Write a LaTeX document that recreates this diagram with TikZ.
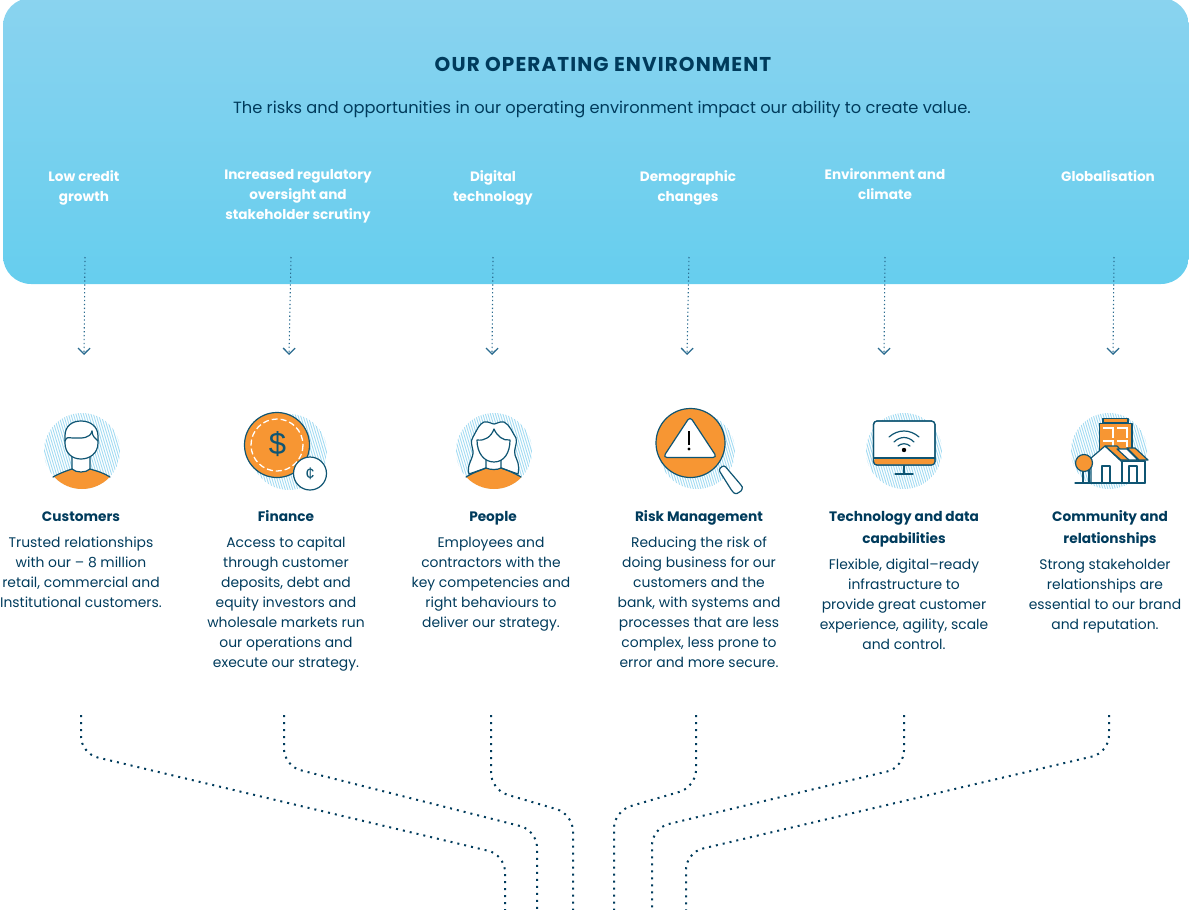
\documentclass[tikz,border=0pt]{standalone}
\usepackage{fontspec}
\setmainfont{Poppins}
\newfontfamily\symfont{Liberation Sans}
\usetikzlibrary{arrows.meta}
\definecolor{navy}{HTML}{003B5C}
\definecolor{stroke}{HTML}{0F5573}
\definecolor{orange}{HTML}{F79633}
\definecolor{hatchc}{HTML}{A6DCF2}
\definecolor{arrowc}{HTML}{2B6C90}
\definecolor{skytop}{HTML}{8AD3EF}
\definecolor{skybot}{HTML}{66CEEE}
\tikzset{
 x=1pt,y=-1pt,
 factor/.style={font=\fontsize{13.6}{20}\selectfont\bfseries,text=white,align=center,inner sep=0pt,anchor=north},
 head/.style={font=\fontsize{13.7}{22}\selectfont\bfseries,text=navy,align=center,inner sep=0pt,anchor=north},
 body/.style={font=\fontsize{13.9}{20}\selectfont,text=navy,align=center,inner sep=0pt,anchor=north},
 downarrow/.style={draw=arrowc,line width=1.1pt,dash pattern=on 1.3pt off 2.6pt,-{Straight Barb[length=6pt,width=12pt,line width=1.3pt]}},
 feeder/.style={draw=navy,line width=2pt,dash pattern=on 2pt off 5pt,rounded corners=17pt},
 ico/.style={draw=stroke,line width=1.2pt,line join=round,line cap=round},
 win/.style={white,line width=1.2pt},
}
\newcommand{\hatchdisc}[3]{%
 \begin{scope}
  \clip (#1,#2) circle (#3);
  \foreach \k in {-60,-57.5,...,60}{\draw[hatchc,line width=.95pt] (#1+\k-12,#2-40) -- (#1+\k+12,#2+40);}
 \end{scope}}
\begin{document}
\begin{tikzpicture}
\useasboundingbox (0,0) rectangle (1189,910);
\begin{scope}
 \clip (0,0) rectangle (1189,910);
 \path[top color=skytop,bottom color=skybot,rounded corners=28pt] (3,-2) rectangle (1189,284);

 \node[font=\fontsize{20}{22}\selectfont\bfseries\addfontfeatures{LetterSpace=5.5},text=navy,inner sep=0pt] (title) at (603,64) {OUR OPERATING ENVIRONMENT};
 \node[font=\fontsize{16.25}{20}\selectfont,text=navy,inner sep=0pt] (sub) at (602,110) {The risks and opportunities in our operating environment impact our ability to create value.};

 \node[factor] (f1) at (84,167) {\strut Low credit\\growth};
 \node[factor] (f2) at (298,165) {\strut Increased regulatory\\oversight and\\stakeholder scrutiny};
 \node[factor] (f3) at (493,167) {\strut Digital\\technology};
 \node[factor] (f4) at (688,167) {\strut Demographic\\changes};
 \node[factor] (f5) at (885,165) {\strut Environment and\\climate};
 \node[factor] (f6) at (1108,167) {\strut Globalisation};

 \coordinate (a1) at (85,257); \coordinate (b1) at (84,355);
 \coordinate (a2) at (291,257); \coordinate (b2) at (289,355);
 \coordinate (a3) at (493,257); \coordinate (b3) at (492,355);
 \coordinate (a4) at (689,257); \coordinate (b4) at (687,355);
 \coordinate (a5) at (885,257); \coordinate (b5) at (884,355);
 \coordinate (a6) at (1114,257); \coordinate (b6) at (1113,355);
 \foreach \i in {1,...,6}{\draw[downarrow] (a\i) -- (b\i);}

 % Customers icon
 \hatchdisc{82}{451}{38}
 \begin{scope}
  \clip (82,451) circle (38);
  \fill[orange] (53,477) .. controls (60,473) and (66,471) .. (72,469) .. controls (76,473) and (86,473) .. (90,469) .. controls (97,471) and (104,473) .. (111,478) -- (111,495) -- (53,495) -- cycle;
 \end{scope}
 \draw[ico,fill=white] (72,455) -- (72,469) .. controls (76,473) and (86,473) .. (90,469) -- (90,455) -- cycle;
 \draw[ico] (53,477) .. controls (60,473) and (66,471) .. (72,469);
 \draw[ico] (90,469) .. controls (97,471) and (104,473) .. (110,477);
 \draw[ico,fill=white] (65,436) .. controls (65,426) and (72,421) .. (81,421) .. controls (91,421) and (98,427) .. (98,436) -- (98,443) .. controls (98,453) and (90,459) .. (81,459) .. controls (72,459) and (65,453) .. (65,443) -- cycle;
 \draw[ico] (65,441) .. controls (67,436) and (68,438) .. (73,438) .. controls (82,438) and (90,439) .. (92,431);
 \draw[ico] (92,431) .. controls (92,436) and (95,438) .. (98,441);

 % Finance icon
 \hatchdisc{289}{452}{38}
 \draw[ico,fill=orange] (277,445) circle (32.5);
 \draw[white,line width=1.3pt,dash pattern=on 6pt off 3pt] (277,445) circle (26);
 \node[text=stroke,font=\symfont\fontsize{31}{31}\selectfont,inner sep=0pt] (dollar) at (277.5,444) {\$};
 \draw[ico,fill=white] (310,473.5) circle (16.5);
 \node[text=stroke,font=\symfont\fontsize{17}{17}\selectfont,inner sep=0pt] (cent) at (310,473.5) {¢};

 % People icon
 \hatchdisc{494}{451}{38}
 \begin{scope}
  \clip (494,451) circle (38);
  \fill[orange] (466,477) .. controls (474,472) and (484,470) .. (486,468) .. controls (490,470) and (498,470) .. (501,468) .. controls (506,471) and (514,473) .. (522,478) -- (522,495) -- (466,495) -- cycle;
 \end{scope}
 \draw[ico,fill=white] (469,474) .. controls (466,465) and (474,458) .. (473,451) .. controls (472,445) and (470,442) .. (473,437) .. controls (477,430) and (479,424) .. (484,422) .. controls (488,421) and (492,424) .. (494,424) .. controls (496,424) and (500,421) .. (504,422) .. controls (510,425) and (512,432) .. (516,438) .. controls (518,443) and (513,450) .. (515,455) .. controls (517,461) and (520,464) .. (518,474) -- (501,468) -- (486,468) -- cycle;
 \draw[ico,fill=white] (486,458) -- (486,468) .. controls (490,470) and (498,470) .. (501,468) -- (501,458) -- cycle;
 \draw[ico,fill=white] (477,440) .. controls (485,441) and (491,437) .. (494,429) .. controls (497,436) and (503,441) .. (510,440) .. controls (510,453) and (504,462) .. (494,462) .. controls (484,462) and (477,453) .. (477,440) -- cycle;
 \draw[ico] (466,477) .. controls (474,472) and (482,470) .. (486,468);
 \draw[ico] (501,468) .. controls (507,470) and (514,473) .. (521,477);

 % Risk icon
 \hatchdisc{697}{451}{38}
 \draw[ico,fill=white,rounded corners=2.5pt] (718.5,469.5) -- (724,465) -- (741,485) .. controls (743,488) and (741,491) .. (739,492.5) .. controls (736,494) and (734,493) .. (732,491) -- cycle;
 \draw[ico,fill=orange] (690.5,443) circle (34.5);
 \draw[ico,fill=white,rounded corners=4pt] (690,416.5) -- (717,457.5) -- (663,457.5) -- cycle;
 \draw[stroke,line width=1.5pt] (689,431) -- (689,445);
 \fill[stroke] (689,449) circle (1.7);

 % Technology icon
 \hatchdisc{904}{451}{38}
 \draw[ico] (904,465) -- (904,474);
 \draw[ico] (895,474) -- (913,474);
 \draw[ico,fill=white,rounded corners=3.5pt] (873.5,421) rectangle (935,465);
 \fill[orange,rounded corners=3pt] (874,458) rectangle (934.5,464.5);
 \draw[ico] (873.5,458) -- (935,458);
 \draw[ico,rounded corners=3.5pt] (873.5,421) rectangle (935,465);
 \fill[stroke] (904,450) circle (2.2);
 \draw[ico] (889,437) .. controls (898,429) and (910,429) .. (919,437);
 \draw[ico] (894,442) .. controls (900,436) and (908,436) .. (914,442);
 \draw[ico] (898,446) .. controls (901,443) and (907,443) .. (910,446);

 % Community icon
 \hatchdisc{1109}{451}{38}
 \draw[ico,fill=orange] (1103,423) rectangle (1128,418.5);
 \draw[ico,fill=orange] (1099.5,423.5) rectangle (1132,458);
 \draw[win] (1103,428) -- (1113,428) -- (1113,438);
 \draw[win] (1117,428) -- (1127,428) -- (1127,438);
 \draw[win] (1103,441) -- (1113,441) -- (1113,447);
 \draw[win] (1117,441) -- (1127,441) -- (1127,447);
 \draw[ico,fill=white] (1091,483) -- (1091,458) -- (1105,446) -- (1122,462) -- (1122,483) -- cycle;
 \draw[ico,fill=white] (1122,483) -- (1122,461) -- (1145,461) -- (1145,483) -- cycle;
 \draw[ico,fill=orange] (1105,446) -- (1117,446) -- (1130,460) -- (1121,460) -- cycle;
 \draw[ico,fill=white] (1117,449) -- (1127,449) -- (1138,460) -- (1129,460) -- cycle;
 \draw[ico,fill=orange] (1127,448) -- (1135,448) -- (1148,460) -- (1139,460) -- cycle;
 \draw[ico,fill=white] (1102,483) -- (1102,466) -- (1110,466) -- (1110,483);
 \draw[ico,fill=white] (1129,483) -- (1129,466) -- (1137,466) -- (1137,483);
 \draw[ico] (1083,470) -- (1083,483);
 \draw[ico] (1089,470) -- (1089,483);
 \draw[ico,fill=orange] (1084,463) circle (8.5);
 \draw[ico] (1075,483) -- (1145,483);

 % Column texts
 \node[head] (h1) at (81,505.6) {\strut Customers};
 \node[head] (h2) at (286,505.6) {\strut Finance};
 \node[head] (h3) at (493,505.6) {\strut People};
 \node[head] (h4) at (699,505.6) {\strut Risk Management};
 \node[head] (h5) at (904,505.6) {\strut Technology and data\\capabilities};
 \node[head] (h6) at (1110,505.6) {\strut Community and\\relationships};
 \node[body] (t1) at (81,533) {\strut Trusted relationships\\with our – 8 million\\retail, commercial and\\Institutional customers.};
 \node[body] (t2) at (286,533) {\strut Access to capital\\through customer\\deposits, debt and\\equity investors and\\wholesale markets run\\our operations and\\execute our strategy.};
 \node[body] (t3) at (491,533) {\strut Employees and\\contractors with the\\key competencies and\\right behaviours to\\deliver our strategy.};
 \node[body] (t4) at (699,533) {\strut Reducing the risk of\\doing business for our\\customers and the\\bank, with systems and\\processes that are less\\complex, less prone to\\error and more secure.};
 \node[body] (t5) at (904,555) {\strut Flexible, digital–ready\\infrastructure to\\provide great customer\\experience, agility, scale\\and control.};
 \node[body] (t6) at (1105,555) {\strut Strong stakeholder\\relationships are\\essential to our brand\\and reputation.};

 % Feeder lines
 \coordinate (c1) at (81,715); \coordinate (d1) at (505,915);
 \coordinate (c2) at (284,715); \coordinate (d2) at (537,915);
 \coordinate (c3) at (491,715); \coordinate (d3) at (573,915);
 \coordinate (c4) at (696,715); \coordinate (d4) at (614,915);
 \coordinate (c5) at (904,715); \coordinate (d5) at (652,915);
 \coordinate (c6) at (1109,715); \coordinate (d6) at (686,915);
 \draw[feeder] (c1) -- (81,753.5) -- (505,854.8) -- (d1);
 \draw[feeder] (c2) -- (284,766) -- (537,830.3) -- (d2);
 \draw[feeder] (c3) -- (491,789.9) -- (573,814) -- (d3);
 \draw[feeder] (c4) -- (696,787) -- (614,811) -- (d4);
 \draw[feeder] (c5) -- (904,767.4) -- (652,828) -- (d5);
 \draw[feeder] (c6) -- (1109,752.5) -- (686,852.5) -- (d6);
\end{scope}
\end{tikzpicture}
\end{document}
